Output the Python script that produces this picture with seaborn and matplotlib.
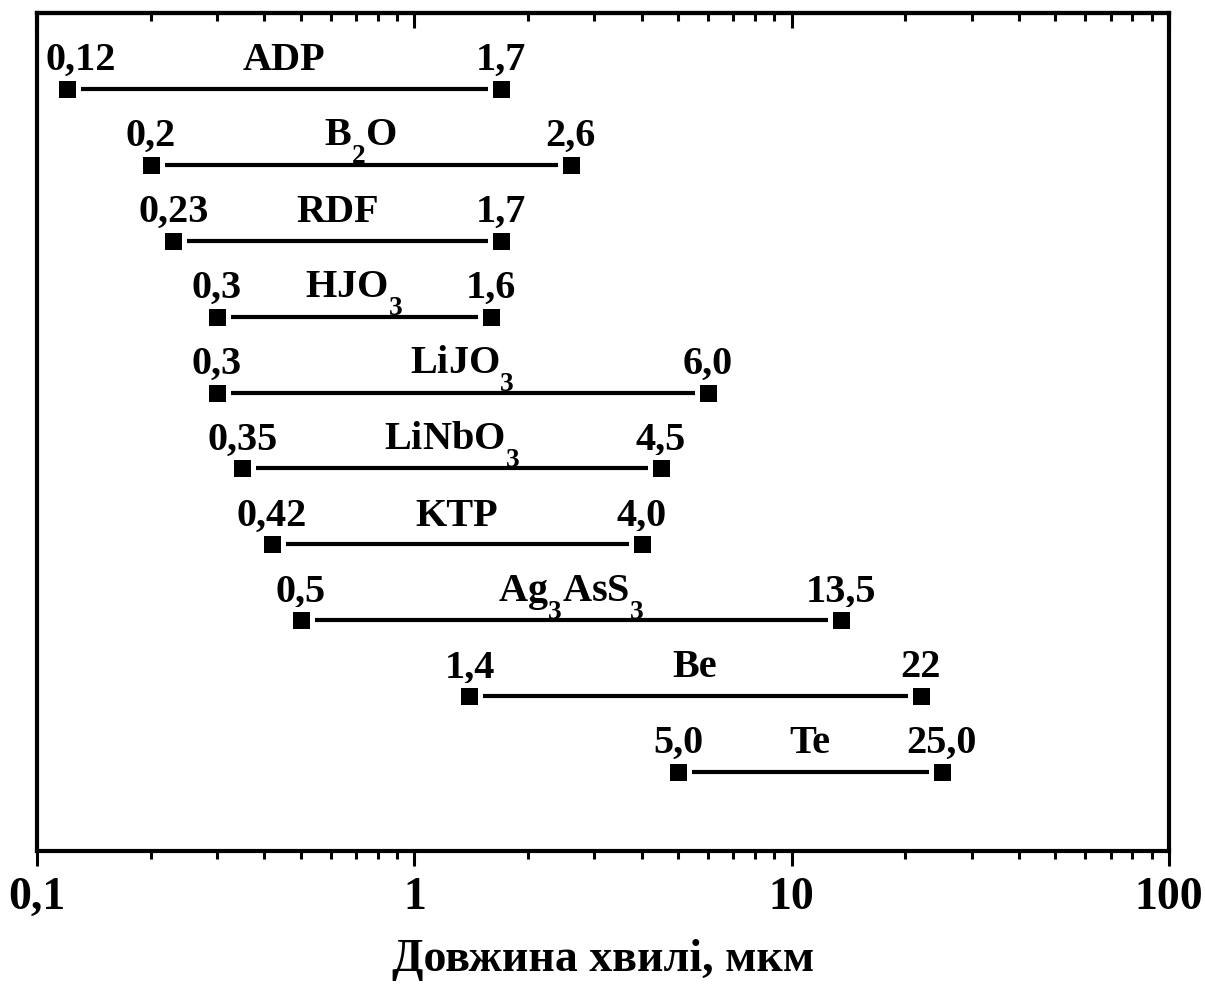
import numpy as np
import pandas as pd
import matplotlib
matplotlib.use("Agg")
import matplotlib.pyplot as plt
import seaborn as sns
from matplotlib.ticker import LogLocator, FixedLocator, NullFormatter
import matplotlib._mathtext as _mt

sns.set_theme(style="white")
plt.rcParams['font.family'] = ['Liberation Serif', 'DejaVu Serif']
plt.rcParams['font.weight'] = 'bold'
plt.rcParams['text.color'] = 'black'
plt.rcParams['axes.labelcolor'] = 'black'
plt.rcParams['xtick.color'] = 'black'
plt.rcParams['mathtext.fontset'] = 'custom'
plt.rcParams['mathtext.rm'] = 'Liberation Serif:bold'
plt.rcParams['mathtext.bf'] = 'Liberation Serif:bold'
# lower subscripts, like the reference
try:
    _mt.FontConstantsBase.sub1 = 0.95
    _mt.FontConstantsBase.sub2 = 0.95
    _mt.SHRINK_FACTOR = 0.68
except Exception:
    pass

# ---- data ----
names = [r'ADP', r'$\mathregular{B_2O}$', r'RDF', r'$\mathregular{HJO_3}$',
         r'$\mathregular{LiJO_3}$', r'$\mathregular{LiNbO_3}$', r'KTP',
         r'$\mathregular{Ag_3AsS_3}$', r'Be', r'Te']
lo = [0.12, 0.2, 0.23, 0.3, 0.3, 0.35, 0.42, 0.5, 1.4, 5.0]
hi = [1.7, 2.6, 1.7, 1.6, 6.0, 4.5, 4.0, 13.5, 22, 25.0]
lo_labels = ['0,12', '0,2', '0,23', '0,3', '0,3', '0,35', '0,42', '0,5', '1,4', '5,0']
hi_labels = ['1,7', '2,6', '1,7', '1,6', '6,0', '4,5', '4,0', '13,5', '22', '25,0']
xtick_vals = [0.1, 1, 10, 100]
xtick_labels = ['0,1', '1', '10', '100']
xlabel = 'Довжина хвилі, мкм'

n = len(names)
rows = np.arange(n, 0, -1)  # top row = n

df = pd.DataFrame({
    'row': np.repeat(np.arange(n), 2),
    'x': np.ravel(np.column_stack([lo, hi])),
    'y': np.repeat(rows, 2),
})

fig = plt.figure(figsize=(12.05, 9.97), dpi=100)
ax = fig.add_axes([37/1205, 1-851/997, (1169-37)/1205, (851-13)/997])

sns.lineplot(data=df, x='x', y='y', units='row', estimator=None,
             color='black', lw=3.0, ax=ax, legend=False, sort=False)
sns.scatterplot(data=df, x='x', y='y', marker='s', s=230, color='black',
                edgecolor='white', linewidth=3.6, ax=ax, legend=False, zorder=5)

ax.set_xscale('log')
ax.set_xlim(0.1, 100)
ax.set_ylim(-0.04, 11.0)

fs_val = 29
off = 13.5
for i in range(n):
    y = rows[i]
    # keep labels near the left frame inside the axes
    dx = 10 if np.log10(lo[i]) - np.log10(0.1) < 0.12 else 0
    ax.annotate(lo_labels[i], (lo[i], y), xytext=(dx, off), textcoords='offset points',
                ha='center', va='baseline', fontsize=fs_val, fontweight='bold')
    ax.annotate(hi_labels[i], (hi[i], y), xytext=(0, off), textcoords='offset points',
                ha='center', va='baseline', fontsize=fs_val, fontweight='bold')
    mid = np.sqrt(lo[i] * hi[i])
    ax.annotate(names[i], (mid, y), xytext=(0, off), textcoords='offset points',
                ha='center', va='baseline', fontsize=fs_val, fontweight='bold')

ax.set_yticks([])
ax.xaxis.set_major_locator(FixedLocator(xtick_vals))
ax.set_xticklabels(xtick_labels, fontsize=33, fontweight='bold')
ax.xaxis.set_minor_locator(LogLocator(base=10, subs=np.arange(2, 10)))
ax.xaxis.set_minor_formatter(NullFormatter())
ax.tick_params(axis='x', which='major', direction='out', length=11, width=2.2,
               color='black', pad=8, top=False, bottom=True)
ax.tick_params(axis='x', which='minor', direction='out', length=6, width=2.2,
               color='black', top=False, bottom=True)

# top ticks inward via secondary axis
sec = ax.secondary_xaxis('top')
sec.xaxis.set_major_locator(FixedLocator(xtick_vals))
sec.xaxis.set_minor_locator(LogLocator(base=10, subs=np.arange(2, 10)))
sec.xaxis.set_major_formatter(NullFormatter())
sec.xaxis.set_minor_formatter(NullFormatter())
sec.tick_params(axis='x', which='major', direction='in', length=11, width=2.2, color='black')
sec.tick_params(axis='x', which='minor', direction='in', length=6, width=2.2, color='black')
sec.spines['top'].set_linewidth(3)

for sp in ax.spines.values():
    sp.set_linewidth(3)
    sp.set_color('black')
    sp.set_visible(True)

ax.set_xlabel(xlabel, fontsize=33, fontweight='bold', labelpad=14)
ax.set_ylabel('')

fig.savefig('out.png', dpi=100)
